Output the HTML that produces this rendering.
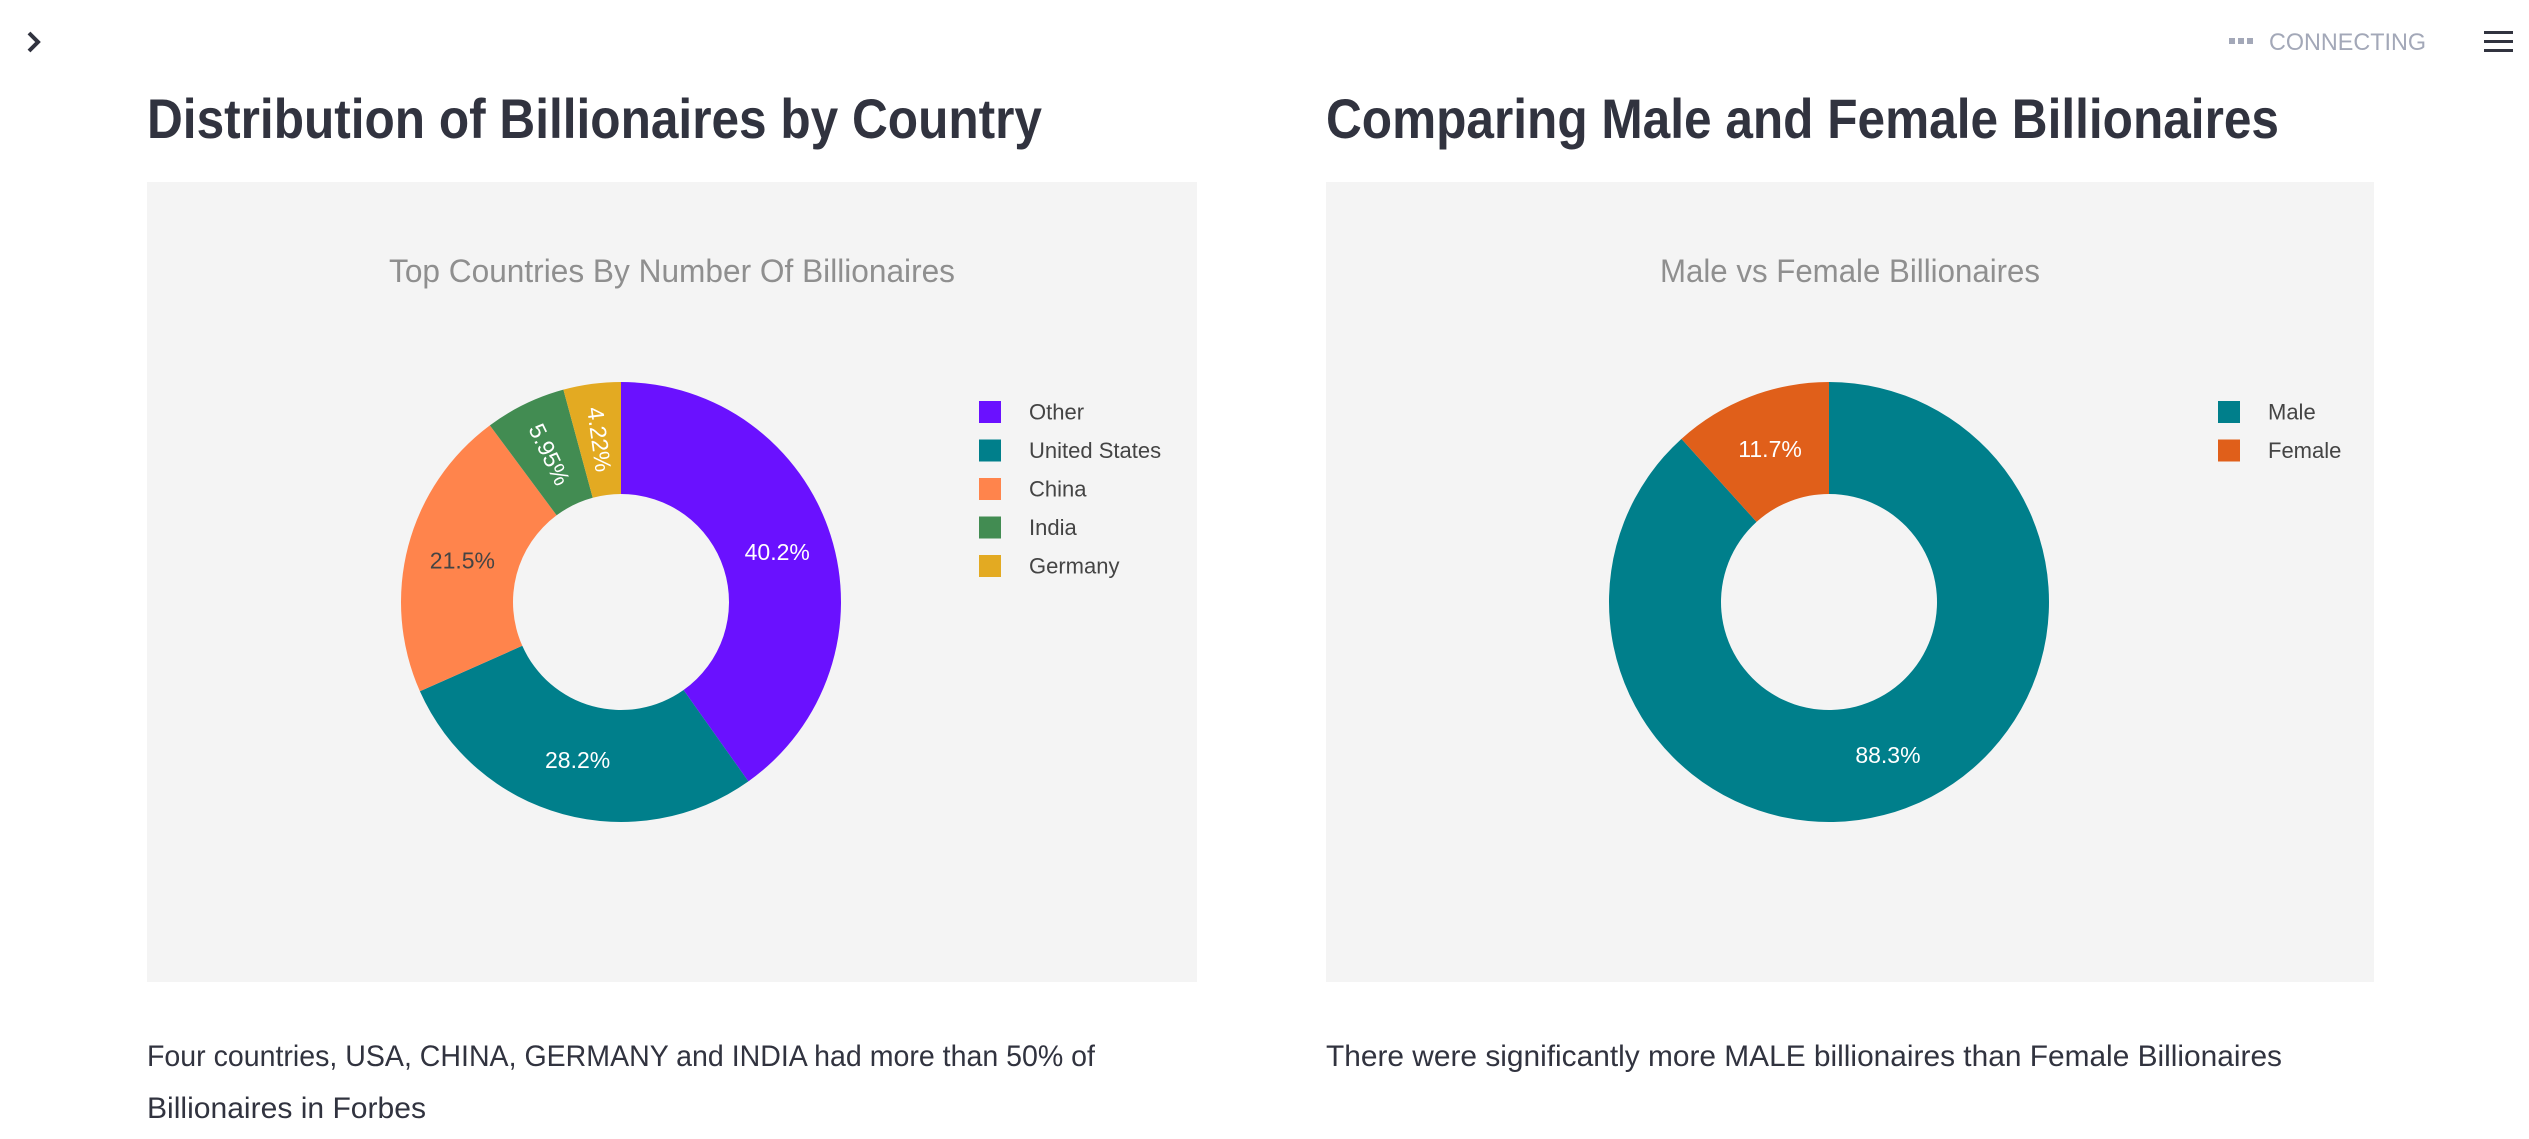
<!DOCTYPE html>
<html><head><meta charset="utf-8"><style>
html,body{margin:0;padding:0;background:#fff;width:2529px;height:1139px;overflow:hidden}
svg{display:block;font-family:"Liberation Sans",sans-serif}
</style></head><body>
<svg id="s" width="2529" height="1139" viewBox="0 0 2529 1139" xmlns="http://www.w3.org/2000/svg">
<path d="M29 33 L38 42 L29 51" fill="none" stroke="#31333F" stroke-width="4"/>
<g>
<rect x="2229" y="38" width="6" height="6" fill="#a3a8b8"/><rect x="2238" y="38" width="6" height="6" fill="#a3a8b8"/><rect x="2247" y="38" width="6" height="6" fill="#a3a8b8"/>
<text x="2269" y="50" font-size="24" fill="#a3a8b8" textLength="157" lengthAdjust="spacingAndGlyphs">CONNECTING</text>
</g>
<g fill="#31333F">
<rect x="2484" y="31" width="29" height="3"/><rect x="2484" y="40" width="29" height="3"/><rect x="2484" y="49" width="29" height="3"/>
</g>
<text x="147" y="138" font-size="56" font-weight="bold" fill="#31333F" textLength="895" lengthAdjust="spacingAndGlyphs">Distribution of Billionaires by Country</text>
<text x="1326" y="138" font-size="56" font-weight="bold" fill="#31333F" textLength="953" lengthAdjust="spacingAndGlyphs">Comparing Male and Female Billionaires</text>
<rect x="147" y="182" width="1050" height="800" fill="#f4f4f4"/>
<rect x="1326" y="182" width="1048" height="800" fill="#f4f4f4"/>
<text x="389" y="282" font-size="32" fill="#8f8f8f" textLength="566" lengthAdjust="spacingAndGlyphs">Top Countries By Number Of Billionaires</text>
<text x="1660" y="282" font-size="32" fill="#8f8f8f" textLength="380" lengthAdjust="spacingAndGlyphs">Male vs Female Billionaires</text>
<g id="c1"></g><g id="c2"></g>
<text font-size="30" fill="#31333F"><tspan x="147" y="1066" textLength="948" lengthAdjust="spacingAndGlyphs">Four countries, USA, CHINA, GERMANY and INDIA had more than 50% of</tspan><tspan x="147" y="1118" textLength="279" lengthAdjust="spacingAndGlyphs">Billionaires in Forbes</tspan></text>
<text x="1326" y="1066" font-size="30" fill="#31333F" textLength="956" lengthAdjust="spacingAndGlyphs">There were significantly more MALE billionaires than Female Billionaires</text>
</svg>
<script>
const countryLabels = ["Other","United States","China","India","Germany"];
const countryValues = [40.2,28.2,21.5,5.95,4.22];
const countryText = ["40.2%","28.2%","21.5%","5.95%","4.22%"];
const countryColors = ["#6a11ff","#007f8b","#ff844c","#428c52","#e3aa22"];
const genderLabels = ["Male","Female"];
const genderValues = [88.3,11.7];
const genderText = ["88.3%","11.7%"];
const genderColors = ["#007f8b","#e05f1a"];
const NS="http://www.w3.org/2000/svg";
function mk(t,a,p){const e=document.createElementNS(NS,t);for(const k in a)e.setAttribute(k,a[k]);p.appendChild(e);return e;}
function donut(gid,cx,cy,labels,values,texts,colors,lx,ly,prefix){
  const g=document.getElementById(gid);
  const R=220,r=108,tot=values.reduce((a,b)=>a+b,0);
  const pt=(a,rad)=>[cx+rad*Math.sin(a),cy-rad*Math.cos(a)];
  let acc=0;
  values.forEach((v,i)=>{
    const a0=acc/tot*2*Math.PI;acc+=v;const a1=acc/tot*2*Math.PI;
    const big=(a1-a0)>Math.PI?1:0;
    const p0=pt(a0,R),p1=pt(a1,R),q1=pt(a1,r),q0=pt(a0,r);
    const p=mk('path',{d:`M${p0} A${R},${R} 0 ${big} 1 ${p1} L${q1} A${r},${r} 0 ${big} 0 ${q0} Z`,fill:colors[i]},g);
    
    
    const am=(a0+a1)/2,c=pt(am,(R+r)/2);
    const frac=v/tot;
    let rot=0;
    if(frac<0.08){rot=am*180/Math.PI-270;}
    const t=mk('text',{x:c[0],y:c[1],'font-size':23,fill:colors[i]=="#ff844c"?"#444":"#fff",'text-anchor':'middle','dominant-baseline':'central',transform:`rotate(${rot} ${c[0]} ${c[1]})`},g);
    t.textContent=texts[i];
    
    
    const y=ly+i*38.5;
    const sq=mk('rect',{x:lx,y:y-11,width:22,height:22,fill:colors[i]},g);
    
    
    const lt=mk('text',{x:lx+50,y:y,'font-size':22,fill:'#444','dominant-baseline':'central'},g);
    lt.textContent=labels[i];
    
    
  });
}
donut('c1',621,602,countryLabels,countryValues,countryText,countryColors,979,412,'country');
donut('c2',1829,602,genderLabels,genderValues,genderText,genderColors,2218,412,'gender');
</script>
</body></html>
